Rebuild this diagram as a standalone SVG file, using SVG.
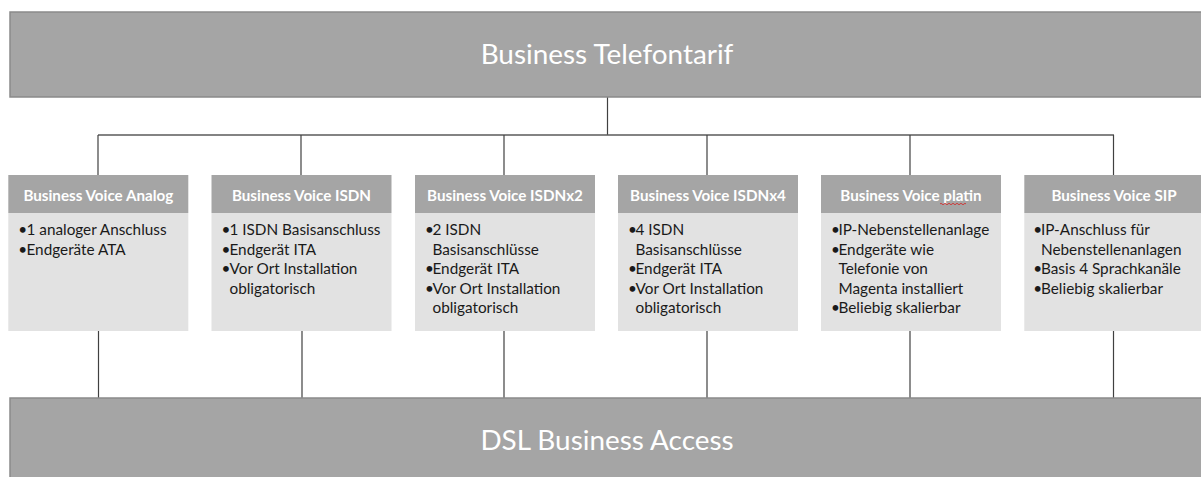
<svg xmlns="http://www.w3.org/2000/svg" width="1201" height="477" viewBox="0 0 1201 477">
<style>
.big{fill:#a5a5a5;stroke:#8a8a8a;stroke-width:1.5}
.hdr{fill:#a5a5a5}
.body{fill:#e2e2e2}
.title{font-family:Lato,"Open Sans",sans-serif;font-size:27.9px;fill:#ffffff;text-anchor:middle}
.ht{font-family:Lato,"Open Sans",sans-serif;font-size:15.2px;font-weight:bold;fill:#ffffff;text-anchor:middle}
.bt{font-family:Lato,"Open Sans",sans-serif;font-size:15.3px;fill:#1a1a1a}
.conn line{stroke:#404040;stroke-width:1.2}
</style>
<rect width="1201" height="477" fill="#ffffff"/>
<g id="connectors" class="conn">
<line x1="607.5" y1="97" x2="607.5" y2="135"/>
<line x1="98" y1="135" x2="1114" y2="135" style="stroke:#5a5a5a;stroke-width:1.4"/>
<line x1="98" y1="135" x2="98" y2="175"/>
<line x1="301" y1="135" x2="301" y2="175"/>
<line x1="504" y1="135" x2="504" y2="175"/>
<line x1="707" y1="135" x2="707" y2="175"/>
<line x1="910" y1="135" x2="910" y2="175"/>
<line x1="1113.5" y1="135" x2="1113.5" y2="175"/>
<line x1="98.5" y1="331" x2="98.5" y2="398"/>
<line x1="302" y1="331" x2="302" y2="398"/>
<line x1="504" y1="331" x2="504" y2="398"/>
<line x1="707" y1="331" x2="707" y2="398"/>
<line x1="910" y1="331" x2="910" y2="398"/>
<line x1="1113.5" y1="331" x2="1113.5" y2="398"/>
</g>
<g id="top">
<rect class="big" x="10" y="12" width="1200" height="85"/>
<text class="title" x="607" y="64">Business Telefontarif</text>
</g>
<g id="bottom">
<rect class="big" x="10" y="398" width="1200" height="90"/>
<text class="title" x="607" y="450">DSL Business Access</text>
</g>
<g id="analog">
<rect class="hdr" x="8.3" y="175" width="180" height="38"/>
<rect class="body" x="8.3" y="213" width="180" height="118"/>
<text class="ht" x="98.3" y="200.5">Business Voice Analog</text>
<text class="bt" x="18.3" y="235">•</text><text class="bt" x="26.5" y="235">1 analoger Anschluss</text>
<text class="bt" x="18.3" y="254.6">•</text><text class="bt" x="26.5" y="254.6">Endgeräte ATA</text>
</g>
<g id="isdn">
<rect class="hdr" x="211.5" y="175" width="180" height="38"/>
<rect class="body" x="211.5" y="213" width="180" height="118"/>
<text class="ht" x="301.5" y="200.5">Business Voice ISDN</text>
<text class="bt" x="221.5" y="235">•</text><text class="bt" x="229.5" y="235">1 ISDN Basisanschluss</text>
<text class="bt" x="221.5" y="254.6">•</text><text class="bt" x="229.5" y="254.6">Endgerät ITA</text>
<text class="bt" x="221.5" y="274.2">•</text><text class="bt" x="229.5" y="274.2">Vor Ort Installation</text>
<text class="bt" x="229.5" y="293.8">obligatorisch</text>
</g>
<g id="isdnx2">
<rect class="hdr" x="415" y="175" width="180" height="38"/>
<rect class="body" x="415" y="213" width="180" height="118"/>
<text class="ht" x="505" y="200.5">Business Voice ISDNx2</text>
<text class="bt" x="425" y="235">•</text><text class="bt" x="432.5" y="235">2 ISDN</text>
<text class="bt" x="432.5" y="254.6">Basisanschlüsse</text>
<text class="bt" x="425" y="274.2">•</text><text class="bt" x="432.5" y="274.2">Endgerät ITA</text>
<text class="bt" x="425" y="293.8">•</text><text class="bt" x="432.5" y="293.8">Vor Ort Installation</text>
<text class="bt" x="432.5" y="313.4">obligatorisch</text>
</g>
<g id="isdnx4">
<rect class="hdr" x="618" y="175" width="180" height="38"/>
<rect class="body" x="618" y="213" width="180" height="118"/>
<text class="ht" x="708" y="200.5">Business Voice ISDNx4</text>
<text class="bt" x="628" y="235">•</text><text class="bt" x="635.5" y="235">4 ISDN</text>
<text class="bt" x="635.5" y="254.6">Basisanschlüsse</text>
<text class="bt" x="628" y="274.2">•</text><text class="bt" x="635.5" y="274.2">Endgerät ITA</text>
<text class="bt" x="628" y="293.8">•</text><text class="bt" x="635.5" y="293.8">Vor Ort Installation</text>
<text class="bt" x="635.5" y="313.4">obligatorisch</text>
</g>
<g id="platin">
<rect class="hdr" x="821" y="175" width="180" height="38"/>
<rect class="body" x="821" y="213" width="180" height="118"/>
<text class="ht" x="911" y="200.5">Business Voice platin</text>
<path d="M940 204 q1 -1.5 2 0 t2 0 t2 0 t2 0 t2 0 t2 0 t2 0 t2 0 t2 0 t2 0 t2 0 t2 0 t2 0" fill="none" stroke="#d03030" stroke-width="0.9"/>
<text class="bt" x="831" y="235">•</text><text class="bt" x="838.5" y="235">IP-Nebenstellenanlage</text>
<text class="bt" x="831" y="254.6">•</text><text class="bt" x="838.5" y="254.6">Endgeräte wie</text>
<text class="bt" x="838.5" y="274.2">Telefonie von</text>
<text class="bt" x="838.5" y="293.8">Magenta installiert</text>
<text class="bt" x="831" y="313.4">•</text><text class="bt" x="838.5" y="313.4">Beliebig skalierbar</text>
</g>
<g id="sip">
<rect class="hdr" x="1024.3" y="175" width="180" height="38"/>
<rect class="body" x="1024.3" y="213" width="180" height="118"/>
<text class="ht" x="1114" y="200.5">Business Voice SIP</text>
<text class="bt" x="1033.3" y="235">•</text><text class="bt" x="1041" y="235">IP-Anschluss für</text>
<text class="bt" x="1041" y="254.6">Nebenstellenanlagen</text>
<text class="bt" x="1033.3" y="274.2">•</text><text class="bt" x="1041" y="274.2">Basis 4 Sprachkanäle</text>
<text class="bt" x="1033.3" y="293.8">•</text><text class="bt" x="1041" y="293.8">Beliebig skalierbar</text>
</g>
</svg>
